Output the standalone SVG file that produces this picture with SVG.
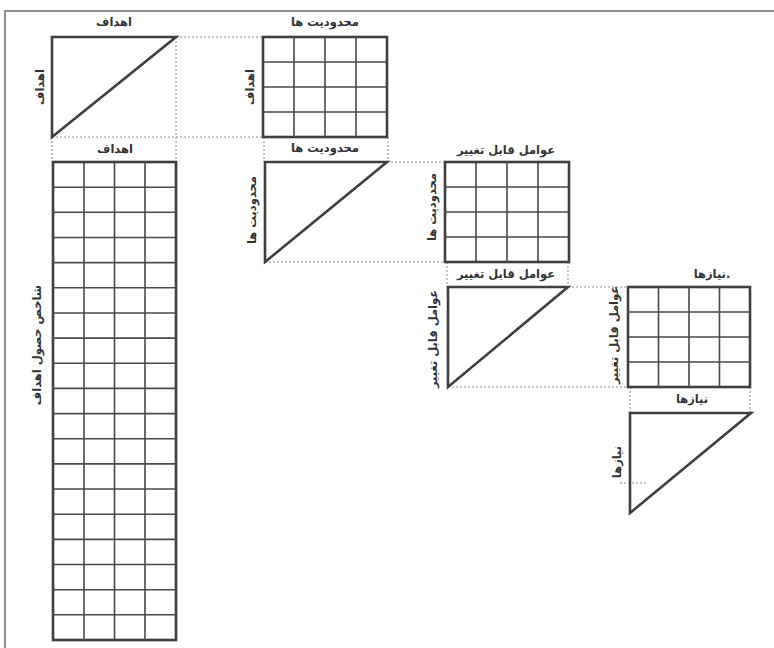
<svg xmlns="http://www.w3.org/2000/svg" width="774" height="648" viewBox="0 0 774 648">
<style>
.frame{fill:none;stroke:#3f3f3f;stroke-width:2.6;stroke-linejoin:miter}
.grid{fill:none;stroke:#4a4a4a;stroke-width:1.6}
.dot{fill:none;stroke:#8a8a8a;stroke-width:1;stroke-dasharray:2 2}
.lbl{font-family:"DejaVu Sans",sans-serif;font-size:11.5px;font-weight:bold;fill:#333;text-anchor:middle;dominant-baseline:central}
.border{fill:none;stroke:#6a6a6a;stroke-width:1.5}
</style>
<rect x="0" y="0" width="774" height="648" fill="#fff"/>
<path class="border" d="M5,648 V11 H774"/>

<g id="connectors">
<line class="dot" x1="176" y1="37" x2="263" y2="37"/>
<line class="dot" x1="52" y1="137" x2="263" y2="137"/>
<line class="dot" x1="176" y1="37" x2="176" y2="162"/>
<line class="dot" x1="52" y1="137" x2="52" y2="162"/>
<line class="dot" x1="264" y1="137" x2="264" y2="162"/>
<line class="dot" x1="388" y1="137" x2="388" y2="162"/>
<line class="dot" x1="387" y1="162" x2="445" y2="162"/>
<line class="dot" x1="265" y1="262" x2="445" y2="262"/>
<line class="dot" x1="447" y1="262" x2="447" y2="287"/>
<line class="dot" x1="568" y1="262" x2="568" y2="287"/>
<line class="dot" x1="568" y1="287" x2="628" y2="287"/>
<line class="dot" x1="448" y1="387" x2="628" y2="387"/>
<line class="dot" x1="630" y1="387" x2="630" y2="413"/>
<line class="dot" x1="750" y1="387" x2="750" y2="413"/>
<line class="dot" x1="620" y1="483" x2="648" y2="483"/>
</g>

<g id="tri-goals">
<polygon class="frame" points="52,37 176,37 52,137"/>
<text class="lbl" x="114" y="22">اهداف</text>
<text class="lbl" transform="rotate(-90 40 87)" x="40" y="87">اهداف</text>
</g>

<g id="grid-goals-constraints">
<rect class="frame" x="263" y="37" width="124" height="100"/>
<path class="grid" d="M294,37V137M325,37V137M356,37V137M263,62H387M263,87H387M263,112H387"/>
<text class="lbl" x="325" y="22">محدودیت ها</text>
<text class="lbl" transform="rotate(-90 250 87)" x="250" y="87">اهداف</text>
</g>

<g id="grid-goals-index">
<rect class="frame" x="53" y="162" width="123" height="478"/>
<path class="grid" d="M84,162V640M114.5,162V640M145,162V640
M53,187.2H176M53,212.3H176M53,237.5H176M53,262.6H176M53,287.8H176M53,313H176M53,338.1H176M53,363.3H176M53,388.4H176M53,413.6H176M53,438.7H176M53,463.9H176M53,489H176M53,514.2H176M53,539.4H176M53,564.5H176M53,589.7H176M53,614.8H176"/>
<text class="lbl" x="115" y="149">اهداف</text>
<text class="lbl" transform="rotate(-90 37 345)" x="37" y="345">شاخص حصول اهداف</text>
</g>

<g id="tri-constraints">
<polygon class="frame" points="265,162 387,162 265,262"/>
<text class="lbl" x="325" y="148">محدودیت ها</text>
<text class="lbl" transform="rotate(-90 252 210)" x="252" y="210">محدودیت ها</text>
</g>

<g id="grid-constraints-variables">
<rect class="frame" x="445" y="162" width="124" height="100"/>
<path class="grid" d="M476,162V262M507,162V262M538,162V262M445,187H569M445,212H569M445,237H569"/>
<text class="lbl" x="506" y="150">عوامل قابل تغییر</text>
<text class="lbl" transform="rotate(-90 432 207)" x="432" y="207">محدودیت ها</text>
</g>

<g id="tri-variables">
<polygon class="frame" points="448,287 568,287 448,387"/>
<text class="lbl" x="506" y="274">عوامل قابل تغییر</text>
<text class="lbl" transform="rotate(-90 433 339)" x="433" y="339">عوامل قابل تغییر</text>
</g>

<g id="grid-variables-needs">
<rect class="frame" x="628" y="287" width="122" height="100"/>
<path class="grid" d="M658.5,287V387M689,287V387M719.5,287V387M628,312H750M628,337H750M628,362H750"/>
<text class="lbl" x="712" y="274">نیازها.</text>
<text class="lbl" transform="rotate(-90 614 335)" x="614" y="335">عوامل قابل تغییر</text>
</g>

<g id="tri-needs">
<polygon class="frame" points="630,413 751,413 630,513"/>
<text class="lbl" x="692" y="399">نیازها</text>
<text class="lbl" transform="rotate(-90 617 462)" x="617" y="462">نیازها</text>
</g>
</svg>
